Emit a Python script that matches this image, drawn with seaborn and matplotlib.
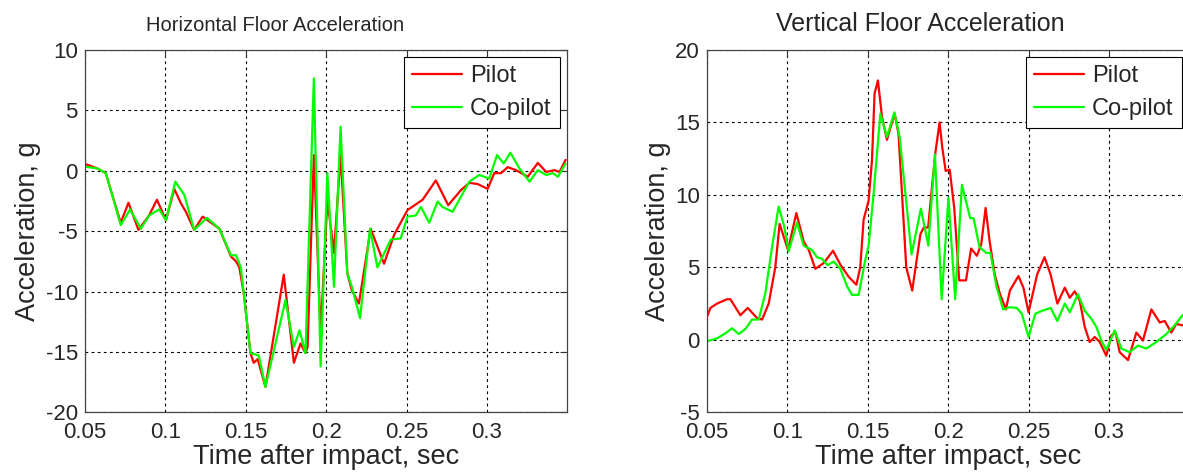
import numpy as np
import pandas as pd
import matplotlib
matplotlib.use("Agg")
import matplotlib.pyplot as plt
import seaborn as sns

# Horizontal floor acceleration (g)
h_t_pilot = [0.0506, 0.0578, 0.0631, 0.0662, 0.0724, 0.0772, 0.0834, 0.0900, 0.0949, 0.1005,
             0.1057, 0.1098, 0.1129, 0.1180, 0.1233, 0.1337, 0.1409, 0.1440, 0.1461, 0.1488,
             0.1530, 0.1550, 0.1575, 0.1623, 0.1737, 0.1800, 0.1841, 0.1872, 0.1885, 0.1924,
             0.1966, 0.2008, 0.2049, 0.2090, 0.2132, 0.2160, 0.2204, 0.2277, 0.2360, 0.2423,
             0.2506, 0.2600, 0.2682, 0.2759, 0.2838, 0.2890, 0.2942, 0.3004, 0.3045, 0.3087,
             0.3129, 0.3181, 0.3253, 0.3316, 0.3368, 0.3419, 0.3451, 0.3488]
h_pilot = [0.55, 0.2, -0.2, -1.6, -4.3, -2.65, -4.9, -3.7, -2.4, -4.1,
           -1.5, -2.7, -3.4, -4.9, -3.8, -4.8, -7.1, -7.5, -8.0, -10.1,
           -15.1, -15.9, -15.6, -17.9, -8.6, -15.9, -14.3, -15.1, -14.6, 1.3,
           -13.4, -2.4, -6.8, 1.3, -8.5, -9.9, -11.0, -4.8, -7.7, -5.3,
           -3.25, -2.4, -0.8, -2.85, -1.6, -1.0, -1.1, -1.5, -0.2, -0.2,
           0.3, 0.05, -0.5, 0.65, -0.1, 0.05, -0.1, 0.9]

h_t_copilot = [0.0506, 0.0578, 0.0631, 0.0662, 0.0724, 0.0782, 0.0849, 0.0900, 0.0963, 0.1005,
               0.1063, 0.1119, 0.1180, 0.1260, 0.1337, 0.1409, 0.1441, 0.1470, 0.1488, 0.1530,
               0.1582, 0.1623, 0.1748, 0.1800, 0.1835, 0.1872, 0.1924, 0.1966, 0.2008, 0.2049,
               0.2090, 0.2132, 0.2160, 0.2211, 0.2273, 0.2319, 0.2402, 0.2464, 0.2506, 0.2558,
               0.2589, 0.2641, 0.2693, 0.2724, 0.2786, 0.2838, 0.2890, 0.2952, 0.3014, 0.3062,
               0.3104, 0.3145, 0.3201, 0.3264, 0.3316, 0.3368, 0.3409, 0.3441, 0.3488]
h_copilot = [0.33, 0.2, -0.2, -1.6, -4.5, -3.2, -4.8, -3.7, -3.2, -4.1,
             -0.9, -2.0, -4.9, -3.9, -4.8, -7.0, -7.0, -8.0, -10.1, -15.1,
             -15.3, -17.9, -10.7, -14.6, -13.2, -15.1, 7.65, -16.2, -0.2, -9.6,
             3.65, -8.5, -9.6, -12.2, -4.8, -8.0, -5.7, -5.6, -3.8, -3.7,
             -3.0, -4.3, -2.55, -3.0, -3.4, -2.15, -0.9, -0.35, -0.65, 1.3,
             0.6, 1.5, 0.2, -0.9, 0.05, -0.35, -0.2, -0.5, 0.6]

# Vertical floor acceleration (g)
v_t_pilot = [0.0502, 0.0523, 0.0564, 0.0626, 0.0647, 0.0709, 0.0755, 0.0813, 0.0844, 0.0885,
             0.0926, 0.0953, 0.1005, 0.1057, 0.1102, 0.1134, 0.1175, 0.1227, 0.1285, 0.1330,
             0.1382, 0.1430, 0.1454, 0.1475, 0.1506, 0.1527, 0.1543, 0.1564, 0.1589, 0.1620,
             0.1651, 0.1668, 0.1692, 0.1740, 0.1777, 0.1828, 0.1849, 0.1876, 0.1901, 0.1922,
             0.1947, 0.1964, 0.1985, 0.2010, 0.2038, 0.2069, 0.2111, 0.2143, 0.2179, 0.2206,
             0.2233, 0.2258, 0.2290, 0.2321, 0.2359, 0.2384, 0.2437, 0.2468, 0.2500, 0.2553,
             0.2599, 0.2637, 0.2679, 0.2725, 0.2756, 0.2787, 0.2818, 0.2849, 0.2880, 0.2911,
             0.2942, 0.2983, 0.3014, 0.3041, 0.3066, 0.3118, 0.3170, 0.3211, 0.3263, 0.3315,
             0.3346, 0.3387, 0.3418, 0.3457, 0.3490]
v_pilot = [1.6, 2.2, 2.5, 2.8, 2.8, 1.7, 2.2, 1.5, 1.4, 2.5,
           5.0, 8.0, 6.2, 8.75, 6.8, 6.2, 4.9, 5.3, 6.15, 5.2,
           4.35, 3.8, 5.0, 8.3, 9.6, 12.4, 17.0, 17.9, 15.4, 13.8,
           15.0, 15.6, 14.2, 5.0, 3.4, 7.3, 7.75, 7.75, 10.7, 13.0,
           15.0, 13.25, 11.65, 11.75, 9.1, 4.1, 4.1, 6.3, 5.8, 6.6,
           9.1, 6.8, 4.5, 3.2, 2.1, 3.4, 4.4, 3.6, 1.9, 4.5,
           5.7, 4.5, 2.5, 3.6, 2.9, 3.35, 2.7, 0.9, -0.15, 0.2,
           -0.15, -1.1, 0.3, 0.5, -0.85, -1.4, 0.5, -0.05, 2.1, 1.2,
           1.3, 0.5, 1.1, 1.0, 1.2]

v_t_copilot = [0.0502, 0.0564, 0.0616, 0.0657, 0.0699, 0.0740, 0.0782, 0.0823, 0.0864, 0.0906,
               0.0947, 0.0982, 0.1009, 0.1061, 0.1102, 0.1154, 0.1185, 0.1216, 0.1251, 0.1289,
               0.1330, 0.1372, 0.1403, 0.1444, 0.1485, 0.1506, 0.1537, 0.1579, 0.1620, 0.1666,
               0.1699, 0.1773, 0.1831, 0.1877, 0.1918, 0.1960, 0.2002, 0.2044, 0.2086, 0.2137,
               0.2158, 0.2195, 0.2237, 0.2263, 0.2300, 0.2342, 0.2384, 0.2426, 0.2458, 0.2500,
               0.2542, 0.2584, 0.2637, 0.2679, 0.2725, 0.2756, 0.2807, 0.2849, 0.2890, 0.2921,
               0.2952, 0.2983, 0.3035, 0.3077, 0.3128, 0.3180, 0.3232, 0.3294, 0.3356, 0.3408,
               0.3457, 0.3490]
v_copilot = [-0.1, 0.1, 0.45, 0.8, 0.4, 0.75, 1.4, 1.4, 3.2, 6.4,
             9.2, 7.8, 6.1, 8.1, 6.5, 6.2, 5.7, 5.6, 5.15, 5.4,
             4.9, 3.7, 3.1, 3.1, 5.5, 6.5, 10.1, 15.6, 14.0, 15.7,
             14.0, 5.9, 9.05, 6.5, 12.8, 2.8, 9.8, 2.8, 10.7, 8.4,
             8.4, 6.4, 6.0, 6.0, 3.7, 2.1, 2.25, 2.2, 1.8, 0.2,
             1.8, 2.0, 2.2, 1.3, 2.5, 1.9, 3.15, 2.0, 1.45, 0.9,
             -0.05, -0.7, 0.65, -0.6, -0.85, -0.4, -0.6, -0.15, 0.4, 1.0,
             1.7, 1.9]

x_ticks = [0.05, 0.1, 0.15, 0.2, 0.25, 0.3]
x_tick_labels = ["0.05", "0.1", "0.15", "0.2", "0.25", "0.3"]
h_y_ticks = [-20, -15, -10, -5, 0, 5, 10]
v_y_ticks = [-5, 0, 5, 10, 15, 20]


def long_frame(t_a, y_a, t_b, y_b):
    a = pd.DataFrame({"t": t_a, "g": y_a, "seat": "Pilot"})
    b = pd.DataFrame({"t": t_b, "g": y_b, "seat": "Co-pilot"})
    return pd.concat([a, b], ignore_index=True)


def style_axes(ax, title, yticks, title_x, title_size):
    ax.set_xlim(0.05, 0.3495)
    ax.set_ylim(yticks[0], yticks[-1])
    ax.set_xticks(x_ticks)
    ax.set_xticklabels(x_tick_labels)
    ax.set_yticks(yticks)
    ax.set_yticklabels([str(v) for v in yticks])
    ax.grid(True, color="black", linestyle=(0, (2.5, 3)), linewidth=0.8)
    ax.tick_params(direction="in", top=True, right=True, length=5, width=0.8,
                   labelsize=16, color="#333333")
    ax.tick_params(axis="x", pad=7)
    ax.tick_params(axis="y", pad=5)
    for s in ax.spines.values():
        s.set_color("#444444")
        s.set_linewidth(0.9)
    ax.set_title(title, fontsize=title_size, x=title_x, pad=14)
    ax.set_xlabel("Time after impact, sec", fontsize=19.5, labelpad=1)
    ax.set_ylabel("Acceleration, g", fontsize=19.5, labelpad=3)
    leg = ax.legend(loc="upper right", fontsize=17, frameon=True, fancybox=False,
                    framealpha=1, edgecolor="black", borderaxespad=0.3,
                    handlelength=2.1, handletextpad=0.35, borderpad=0.35,
                    labelspacing=0.45)
    leg.get_frame().set_linewidth(0.8)


def main():
    sns.set_style("white")
    plt.rcParams["font.family"] = ["Liberation Sans", "DejaVu Sans"]

    fig = plt.figure(figsize=(11.83, 4.74), dpi=100)
    ax1 = fig.add_axes([0.0716, 0.1302, 0.4074, 0.7643])
    ax2 = fig.add_axes([0.5974, 0.1302, 0.4074, 0.7643])

    pal = {"Pilot": "#ff0000", "Co-pilot": "#00ff00"}

    df_h = long_frame(h_t_pilot, h_pilot, h_t_copilot, h_copilot)
    sns.lineplot(data=df_h, x="t", y="g", hue="seat", palette=pal, estimator=None,
                 linewidth=1.6, ax=ax1)
    style_axes(ax1, "Horizontal Floor Acceleration", h_y_ticks, 0.395, 14.5)

    df_v = long_frame(v_t_pilot, v_pilot, v_t_copilot, v_copilot)
    sns.lineplot(data=df_v, x="t", y="g", hue="seat", palette=pal, estimator=None,
                 linewidth=1.6, ax=ax2)
    style_axes(ax2, "Vertical Floor Acceleration", v_y_ticks, 0.444, 18)

    fig.savefig("out.png", dpi=100)
    plt.close(fig)


if __name__ == "__main__":
    main()
